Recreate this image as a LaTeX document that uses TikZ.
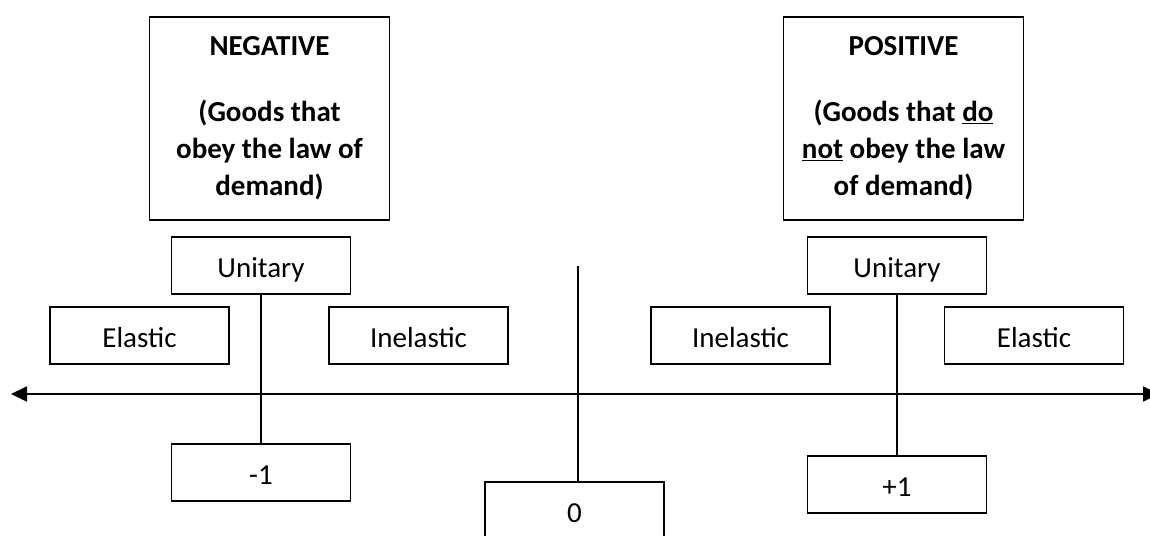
\documentclass[tikz,border=0pt]{standalone}
\usepackage{fontspec}
\setmainfont{Carlito}
\usetikzlibrary{arrows.meta}
\begin{document}
\begin{tikzpicture}[x=1pt,y=-1pt,
  sbox/.style={draw, line width=1.6pt, minimum width=179pt, minimum height=57pt,
    inner sep=0pt, text height=26pt, text depth=3pt, font=\fontsize{29}{34}\selectfont},
  bigbox/.style={draw, line width=1.6pt, minimum width=240pt, minimum height=203pt,
    inner sep=0pt, align=center, font=\fontsize{29}{37}\bfseries\selectfont},
  ln/.style={line width=1.8pt},
  >={Triangle[length=16pt,width=15pt]}]
\useasboundingbox (0,0) rectangle (1150,535);
\clip (0,0) rectangle (1150,535);

\node[bigbox] (neg) at (269.5,118.5) {NEGATIVE\\[29pt] (Goods that\\ obey the law of\\ demand)};
\node[bigbox] (pos) at (903.5,118.5) {POSITIVE\\[29pt] (Goods that \underline{do}\\ \underline{not} obey the law\\ of demand)};

\node[sbox] (uL) at (261,265.5) {Unitary};
\node[sbox] (eL) at (139.5,335.5) {Elastic};
\node[sbox] (iL) at (418.5,335.5) {Inelastic};
\node[sbox] (iR) at (740.5,335.5) {Inelastic};
\node[sbox] (uR) at (897,265.5) {Unitary};
\node[sbox] (eR) at (1034,335.5) {Elastic};
\node[sbox] (m1) at (261,472.5) {-1};
\node[sbox] (zero) at (574.5,510.5) {0};
\node[sbox] (p1) at (897,484.5) {+1};

\coordinate (axL) at (11,394);
\coordinate (axR) at (1159,394);
\coordinate (ctop) at (578,266);

\draw[ln, <->] (axL) -- (axR);
\draw[ln] (uL.south) -- (uL.south |- m1.north);
\draw[ln] (ctop) -- (ctop |- zero.north);
\draw[ln] (uR.south) -- (uR.south |- p1.north);
\end{tikzpicture}
\end{document}
